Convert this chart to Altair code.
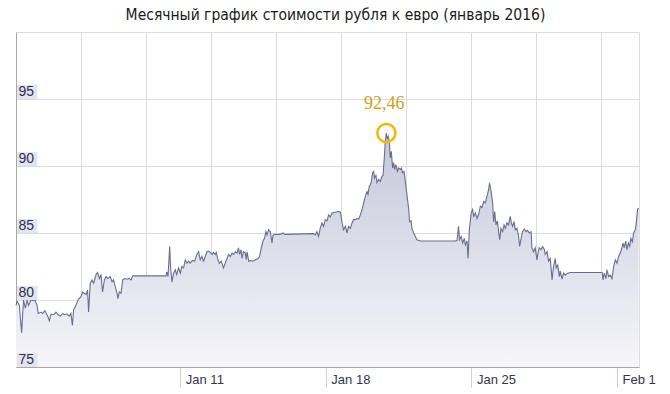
import altair as alt
import pandas as pd

# ---- data: (day of January 2016, RUB per EUR) ----
week1 = [(3.10,79.6),(3.15,79.9),(3.26,79.6),(3.37,77.55),(3.46,80.0),(3.55,79.4),(3.63,80.0),(3.70,79.6),
         (3.82,80.0),(3.95,79.95),(4.01,80.0),(4.11,79.6),(4.17,79.0),(4.30,79.1),(4.38,79.0),(4.49,79.2),
         (4.62,78.8),(4.70,78.45),(4.78,78.95),(4.91,78.9),(5.02,79.1),(5.13,78.9),(5.23,78.8),(5.34,79.0),
         (5.42,78.9),(5.55,78.95),(5.66,78.8),(5.74,79.0),(5.81,78.1),(5.87,79.25),(5.98,79.6),(6.10,80.05),
         (6.23,80.25),(6.30,80.6),(6.38,80.5),(6.47,80.4),(6.54,80.75),(6.59,79.1),(6.67,81.25),(6.75,81.5),
         (6.83,81.25),(6.95,81.9),(7.02,82.05),(7.11,81.6),(7.19,81.9),(7.26,80.6),(7.35,81.5),(7.43,81.75)]
week2 = [(7.52,81.6),(7.63,81.75),(7.72,81.35),(7.79,81.5),(7.87,81.0),(7.96,80.5),(8.00,80.1),(8.07,80.6),
         (8.15,80.5),(8.23,81.5),(8.32,81.6),(8.44,81.55),(8.55,81.6),(8.64,81.5),(8.71,81.8),(10.31,81.8),
         (10.36,82.1),(10.41,81.75),(10.49,84.0),(10.53,82.5),(10.60,81.35),(10.68,82.0),(10.76,82.25),
         (10.82,81.9),(10.92,82.4),(11.00,82.0),(11.08,82.5),(11.16,82.4),(11.24,83.0),(11.32,82.75),
         (11.40,82.9),(11.48,82.75),(11.59,82.95),(11.69,82.9),(11.80,83.4)]
week3 = [(11.88,83.6),(11.96,83.0),(12.04,83.25),(12.12,82.9),(12.20,83.25),(12.28,83.6),(12.36,83.65),
         (12.44,83.55),(12.53,83.4),(12.60,83.55),(12.68,83.4),(12.73,83.55),(12.81,83.0),(12.88,82.75),
         (12.97,82.9),(13.08,82.4),(13.16,82.75),(13.25,83.1),(13.32,83.4),(13.41,83.25),(13.49,83.5),
         (13.56,83.4),(13.65,83.6),(13.73,83.5),(13.80,83.9),(13.85,83.4),(13.92,83.75),(13.97,83.1),
         (14.04,83.6),(14.13,83.5),(14.17,83.0),(14.21,83.6),(14.29,82.9),(14.37,82.95),(14.48,82.9),
         (14.61,83.0),(14.74,83.1),(14.81,83.25),(14.90,83.9),(14.98,84.4),(15.05,84.6),(15.12,85.1),
         (15.17,84.85),(15.25,85.25),(15.33,85.1),(15.41,84.25),(15.46,84.85),(15.57,84.9),(15.81,84.9),
         (15.94,85.0),(16.02,84.9),(17.41,84.95)]
week4 = [(17.49,84.85),(17.57,85.1),(17.65,84.75),(17.73,85.35),(17.81,85.75),(17.89,85.5),(17.97,86.0),
         (18.06,85.9),(18.13,86.35),(18.21,86.2),(18.30,86.5),(18.45,86.55),(18.61,86.6),(18.70,86.55),
         (18.78,85.75),(18.85,85.25),(18.94,85.5),(19.02,85.0),(19.09,85.5),(19.18,85.35),(19.26,85.75),
         (19.33,86.0),(19.42,86.0),(19.50,86.1),(19.58,86.05),(19.66,86.35),(19.74,86.75),(19.82,87.25),
         (19.90,87.75),(19.98,88.1),(20.03,87.9),(20.09,88.5),(20.14,88.6),(20.19,88.85),(20.25,89.5),
         (20.30,89.6),(20.34,89.1),(20.41,89.3),(20.46,88.75),(20.54,89.0),(20.62,88.85),(20.70,89.25),
         (20.75,89.3),(20.81,90.6),(20.86,91.85),(20.91,92.46),(20.96,92.0),(21.00,92.2),(21.05,91.85),
         (21.10,90.6),(21.15,91.1),(21.21,89.85),(21.26,90.25),(21.31,89.75),(21.37,90.1),(21.44,89.6),
         (21.50,89.85),(21.58,89.75),(21.63,89.85),(21.69,89.5),(21.76,89.6),(21.82,88.85),(21.90,87.85),
         (21.98,86.85),(22.03,85.85),(22.10,85.9),(22.14,85.35),(22.22,85.0),(22.30,84.75),(22.38,84.5),
         (22.54,84.4),(24.23,84.4)]
week5 = [(24.31,84.45),(24.38,85.5),(24.43,84.5),(24.51,84.75),(24.58,84.25),(24.66,84.6),(24.71,84.1),
         (24.79,84.4),(24.84,83.1),(24.90,85.25),(24.99,86.5),(25.06,86.75),(25.11,86.25),(25.19,86.5),
         (25.27,86.1),(25.35,86.4),(25.43,87.0),(25.51,86.9),(25.59,87.35),(25.67,87.25),(25.75,87.75),
         (25.83,88.25),(25.87,88.75),(25.96,88.0),(26.02,87.25),(26.07,85.85),(26.12,86.6),(26.18,85.6),
         (26.25,85.9),(26.31,85.1),(26.36,84.5),(26.42,85.35),(26.50,85.1),(26.57,85.6),(26.63,85.35),
         (26.71,85.75),(26.79,85.6),(26.87,86.25),(26.92,85.75),(26.98,85.5),(27.05,85.85),(27.11,85.25),
         (27.19,85.35),(27.27,84.75),(27.32,84.0),(27.39,84.6),(27.46,85.1),(27.54,85.3),(27.63,85.1),
         (27.70,85.2),(27.78,85.0),(27.87,85.1),(27.91,83.9),(27.99,83.6),(28.07,83.9),(28.15,83.0),
         (28.20,83.5),(28.26,83.9),(28.35,83.75),(28.42,84.0),(28.51,83.75),(28.55,83.4),(28.64,83.6),
         (28.71,82.9),(28.79,83.1),(28.88,81.5),(28.95,82.5),(29.03,83.1),(29.08,82.4),(29.15,82.6),
         (29.23,81.75),(29.27,82.15),(29.36,81.55),(29.43,82.0),(29.52,81.85),(29.63,82.0),(29.76,82.05),
         (31.29,82.05)]
week6 = [(31.33,81.5),(31.39,82.0),(31.47,81.6),(31.52,82.25),(31.60,81.75),(31.68,81.85),(31.76,81.6),
         (31.84,82.5),(31.92,83.0),(32.00,82.75),(32.08,83.25),(32.16,83.5),(32.24,83.9),(32.29,84.25),
         (32.35,83.9),(32.42,84.4),(32.48,83.75),(32.55,84.25),(32.61,84.0),(32.67,84.6),(32.74,84.35),
         (32.80,85.0),(32.88,85.25),(32.93,85.75),(32.99,86.75),(33.04,86.85)]

x_range_days = [3.099, 33.06]
grid_days = [6.225, 9.351, 12.477, 15.603, 18.728, 21.854, 24.98, 28.106, 31.232]
tick_days = [11, 18, 25, 32]
y_ticks = [75, 80, 85, 90, 95]
y_grid = [75, 80, 85, 90, 95, 100]
title_text = "Месячный график стоимости рубля к евро (январь 2016)"

base = pd.Timestamp("2016-01-01")


def to_ts(d):
    return base + pd.to_timedelta(d - 1, unit="D")


def to_dt(d):
    ts = to_ts(d)
    return alt.DateTime(year=ts.year, month=ts.month, date=ts.day,
                        hours=ts.hour, minutes=ts.minute, seconds=ts.second)


df = pd.DataFrame(week1 + week2 + week3 + week4 + week5 + week6, columns=["day", "rate"])
df["t"] = [to_ts(d) for d in df["day"]]

peak = df.loc[[df["rate"].idxmax()]].copy()
peak["label"] = peak["rate"].map(lambda v: f"{v:.2f}".replace(".", ","))

ylab = pd.DataFrame({"v": y_ticks})

xscale = alt.Scale(domain=[to_dt(d) for d in x_range_days], nice=False)
yscale = alt.Scale(domain=[75, 100], nice=False, zero=False)

grid_axis = alt.Axis(orient="top", values=[to_dt(d) for d in grid_days], labels=False, ticks=False,
                     domain=False, grid=True, gridColor="#dcdcdc", gridWidth=1, title=None)
date_axis = alt.Axis(orient="bottom", values=[to_dt(d) for d in tick_days], format="%b %-d",
                     grid=False, title=None, domain=True, domainColor="#a8a8a8",
                     tickSize=20, tickColor="#cfcfcf", labelAlign="left", labelBaseline="middle",
                     labelPadding=-8, labelOffset=5, labelFont="Liberation Sans", labelFontSize=13,
                     labelColor="#33354d", labelFlush=False, labelOverlap=False)
y_axis = alt.Axis(values=y_grid, labels=False, ticks=False, domain=True, domainColor="#a8a8a8",
                  grid=True, gridColor="#dcdcdc", title=None)

fill = alt.Gradient(gradient="linear",
                    stops=[alt.GradientStop(color="#c4c7da", offset=0),
                           alt.GradientStop(color="#f6f6fa", offset=1)],
                    x1=0, x2=0, y1=0, y2=1)

area = alt.Chart(df).mark_area(color=fill, line=False).encode(
    x=alt.X("t:T", scale=xscale, axis=grid_axis),
    y=alt.Y("rate:Q", scale=yscale, axis=y_axis),
    y2=alt.datum(75),
)

line = alt.Chart(df).mark_line(color="#6a6e8e", strokeWidth=1.1).encode(
    x=alt.X("t:T", scale=xscale, axis=date_axis),
    y=alt.Y("rate:Q", scale=yscale, axis=None),
)

boxes = alt.Chart(ylab).transform_calculate(top="datum.v + 1.05").mark_rect(color="#e4e4ef").encode(
    x=alt.value(1), x2=alt.value(21.5),
    y=alt.Y("v:Q", scale=yscale, axis=None),
    y2="top:Q",
)

texts = alt.Chart(ylab).mark_text(align="left", baseline="middle", dy=-7, font="Liberation Sans",
                                  fontSize=14, color="#2e3050").encode(
    x=alt.value(2.5),
    y=alt.Y("v:Q", scale=yscale, axis=None),
    text="v:Q",
)

ring = alt.Chart(peak).mark_point(shape="circle", size=330, filled=False, stroke="#f2b705",
                                  strokeWidth=2.5, opacity=1).encode(
    x=alt.X("t:T", scale=xscale, axis=None),
    y=alt.Y("rate:Q", scale=yscale, axis=None),
)

peak_label = alt.Chart(peak).mark_text(font="Liberation Serif", fontSize=18,
                                       color="#d29e1c", dy=-29, dx=-2, baseline="middle").encode(
    x=alt.X("t:T", scale=xscale, axis=None),
    y=alt.Y("rate:Q", scale=yscale, axis=None),
    text="label:N",
)

chart = alt.layer(area, line, boxes, texts, ring, peak_label).resolve_axis(
    x="independent", y="independent"
).properties(
    width=623, height=335,
    autosize=alt.AutoSizeParams(type="none"),
    padding={"left": 16, "top": 32, "right": 31, "bottom": 27},
    title=alt.TitleParams(text=title_text,
                          font="'Liberation Sans Narrow', 'DejaVu Sans Condensed', 'Liberation Sans', sans-serif",
                          fontSize=15.5, fontWeight="normal", color="#1a1a1a", anchor="middle",
                          offset=9, dx=8),
).configure_view(stroke="#dcdcdc", strokeWidth=1).configure(background="white")

chart.save("out.html", embed_options={"renderer": "svg", "actions": False})
